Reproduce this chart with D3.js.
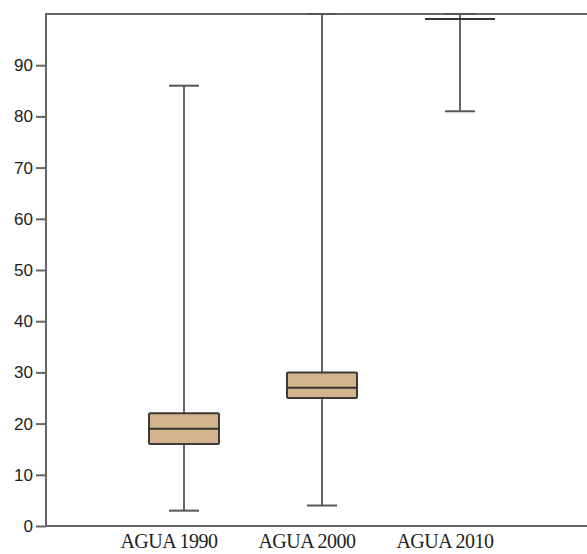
<!DOCTYPE html>
<html>
<head>
<meta charset="utf-8">
<script src="https://cdn.jsdelivr.net/npm/d3@7"></script>
<style>
  body { margin: 0; background: #fff; }
  svg { display: block; }
</style>
</head>
<body>
<svg></svg>
<script>
// box plot values
var categories = ["AGUA 1990", "AGUA 2000", "AGUA 2010"];
var mins    = [3, 4, 81];
var q1s     = [16, 25, 99];
var medians = [19, 27, 99];
var q3s     = [22, 30, 99];
var maxs    = [86, 100, 100];
var yTicks  = [0, 10, 20, 30, 40, 50, 60, 70, 80, 90];

var width = 587, height = 554;
var plotLeft = 46, plotTop = 14, plotBottom = 526;

var svg = d3.select('svg')
  .attr('width', width)
  .attr('height', height)

var y = d3.scaleLinear().domain([0, 100]).range([plotBottom, plotTop])
var x = d3.scaleBand().domain(categories).range([115, 529]).padding(0)

var boxes = categories.map(function (c, i) {
  return { cat: c, min: mins[i], q1: q1s[i], med: medians[i], q3: q3s[i], max: maxs[i] }
})

var boxW = 70, capW = 30;

// frame (top + bottom lines run off the right edge)
svg.append('path')
  .attr('d', 'M' + (width + 5) + ',' + plotTop + 'H' + plotLeft + 'V' + plotBottom + 'H' + (width + 5))
  .attr('fill', 'none')
  .attr('stroke', '#666')
  .attr('stroke-width', 2)

// y axis
var yAxis = svg.append('g')
  .attr('transform', 'translate(' + plotLeft + ',0)')
  .call(d3.axisLeft(y).tickValues(yTicks).tickSize(10).tickSizeOuter(0).tickPadding(3))
yAxis.select('.domain').remove()
yAxis.selectAll('.tick line').attr('stroke', '#666').attr('stroke-width', 2)
yAxis.selectAll('.tick text')
  .attr('fill', '#222')
  .attr('font-family', 'Liberation Sans, Arial, sans-serif')
  .attr('font-size', 17)

// x labels (sit a bit left of the boxes)
svg.append('g')
  .selectAll('text')
  .data(categories)
  .enter().append('text')
    .attr('x', c => x(c) + x.bandwidth() / 2 - 15)
    .attr('y', 548)
    .attr('text-anchor', 'middle')
    .attr('font-family', 'Liberation Serif, Times New Roman, serif')
    .attr('font-size', 20)
    .attr('letter-spacing', -0.5)
    .attr('fill', '#222')
    .text(c => c)

var g = svg.append('g')
  .selectAll('g')
  .data(boxes)
  .enter().append('g')
    .attr('transform', b => 'translate(' + (x(b.cat) + x.bandwidth() / 2) + ',0)')

// whiskers
g.append('line')
  .attr('x1', 0).attr('x2', 0)
  .attr('y1', b => y(b.min)).attr('y2', b => y(b.q1))
  .attr('stroke', '#666').attr('stroke-width', 2)
g.append('line')
  .attr('x1', 0).attr('x2', 0)
  .attr('y1', b => y(b.q3)).attr('y2', b => y(b.max))
  .attr('stroke', '#666').attr('stroke-width', 2)
g.append('line')
  .attr('x1', -capW / 2).attr('x2', capW / 2)
  .attr('y1', b => y(b.min)).attr('y2', b => y(b.min))
  .attr('stroke', '#555').attr('stroke-width', 2)
g.append('line')
  .attr('x1', -capW / 2).attr('x2', capW / 2)
  .attr('y1', b => y(b.max)).attr('y2', b => y(b.max))
  .attr('stroke', '#555').attr('stroke-width', 2)

// box
g.append('rect')
  .attr('x', -boxW / 2)
  .attr('width', boxW)
  .attr('y', b => y(b.q3))
  .attr('height', b => y(b.q1) - y(b.q3))
  .attr('fill', '#d2b48c')
  .attr('stroke', '#3a3a3a')
  .attr('stroke-width', 2)
  .attr('rx', 1)

// median
g.append('line')
  .attr('x1', -boxW / 2).attr('x2', boxW / 2)
  .attr('y1', b => y(b.med)).attr('y2', b => y(b.med))
  .attr('stroke', '#333').attr('stroke-width', 2)
</script>
</body>
</html>
